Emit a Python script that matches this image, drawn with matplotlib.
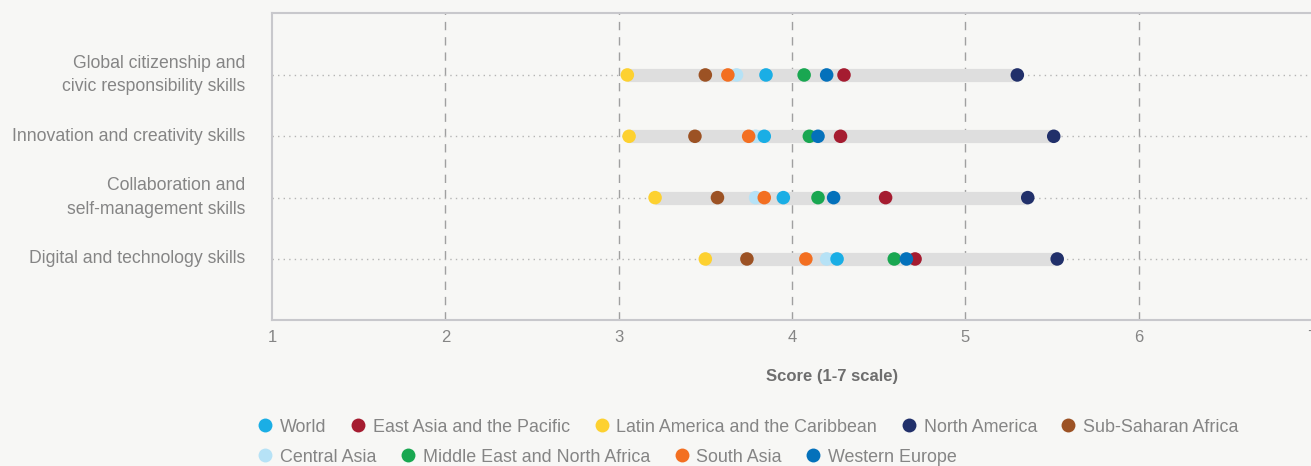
import matplotlib

matplotlib.use("Agg")

import matplotlib.pyplot as plt
from matplotlib.lines import Line2D

plt.rcParams["font.family"] = ["Liberation Sans", "DejaVu Sans"]

skills = [
    "Global citizenship and\ncivic responsibility skills",
    "Innovation and creativity skills",
    "Collaboration and\nself-management skills",
    "Digital and technology skills",
]

# drawing order (back to front)
regions = [
    "Central Asia",
    "Sub-Saharan Africa",
    "Latin America and the Caribbean",
    "Middle East and North Africa",
    "South Asia",
    "World",
    "East Asia and the Pacific",
    "Western Europe",
    "North America",
]

scores = {
    "Central Asia": [3.68, 3.79, 3.79, 4.20],
    "Sub-Saharan Africa": [3.50, 3.44, 3.57, 3.74],
    "Latin America and the Caribbean": [3.05, 3.06, 3.21, 3.50],
    "Middle East and North Africa": [4.07, 4.10, 4.15, 4.59],
    "South Asia": [3.63, 3.75, 3.84, 4.08],
    "World": [3.85, 3.84, 3.95, 4.26],
    "East Asia and the Pacific": [4.30, 4.28, 4.54, 4.71],
    "Western Europe": [4.20, 4.15, 4.24, 4.66],
    "North America": [5.30, 5.51, 5.36, 5.53],
}

colors = {
    "World": "#1aaee5",
    "East Asia and the Pacific": "#a51c30",
    "Latin America and the Caribbean": "#fdd130",
    "North America": "#21306a",
    "Sub-Saharan Africa": "#9c5224",
    "Central Asia": "#b6e2f6",
    "Middle East and North Africa": "#19a751",
    "South Asia": "#f36f21",
    "Western Europe": "#0471bb",
}

legend_rows = [
    ["World", "East Asia and the Pacific", "Latin America and the Caribbean",
     "North America", "Sub-Saharan Africa"],
    ["Central Asia", "Middle East and North Africa", "South Asia",
     "Western Europe"],
]

x_ticks = [1, 2, 3, 4, 5, 6, 7]

BG = "#f7f7f5"
TEXT = "#858585"

fig = plt.figure(figsize=(13.11, 4.66), dpi=100, facecolor=BG)
ax = fig.add_axes([272 / 1311, 146 / 466, 1040 / 1311, 307 / 466])
ax.set_facecolor(BG)

ypos = [4, 3, 2, 1]

for i, y in enumerate(ypos):
    vals = [scores[r][i] for r in regions]
    ax.axhline(y, color="#b5b5b5", lw=1, ls=(0, (1, 3)), zorder=1)
    ax.plot([min(vals), max(vals)], [y, y], color="#dedede", lw=9.5,
            solid_capstyle="butt", zorder=2)

for r in regions:
    ax.scatter(scores[r], ypos, s=95, color=colors[r], edgecolors="none",
               zorder=3)

for xv in x_ticks[1:-1]:
    ax.axvline(xv, color="#a0a0a0", lw=1, ls=(0, (6, 5)), zorder=0)

ax.set_xlim(1, 7)
ax.set_ylim(0.005, 5.01)
ax.set_xticks(x_ticks)
ax.set_xticklabels([str(v) for v in x_ticks])
ax.set_yticks(ypos)
ax.set_yticklabels(skills)
ax.tick_params(axis="x", colors=TEXT, labelsize=12, length=0, pad=7)
ax.tick_params(axis="y", colors=TEXT, labelsize=12.7, length=0, pad=19.5)
for lab in ax.get_yticklabels():
    lab.set_horizontalalignment("right")
    lab.set_verticalalignment("center")
    lab.set_multialignment("right")
    lab.set_linespacing(1.5)
for side in ["top", "left", "bottom"]:
    ax.spines[side].set_color("#c8c8cc")
    ax.spines[side].set_linewidth(1.5)
ax.spines["right"].set_visible(False)

fig.text(832 / 1311, 1 - 376 / 466, "Score (1-7 scale)", ha="center",
         va="center", fontsize=12, fontweight="bold", color="#6e6e6e")

legend_y = [1 - 427 / 466, 1 - 457 / 466]
for row, ly in zip(legend_rows, legend_y):
    handles = [Line2D([], [], marker="o", ls="none", markersize=10,
                      markerfacecolor=colors[r], markeredgecolor="none")
               for r in row]
    leg = fig.legend(handles, row, loc="center left",
                     bbox_to_anchor=(249 / 1311, ly), ncol=len(row),
                     frameon=False, fontsize=12.9, handletextpad=0.33,
                     columnspacing=1.26, handlelength=1.0, borderaxespad=0)
    for t in leg.get_texts():
        t.set_color(TEXT)

fig.savefig("out.png", dpi=100, facecolor=BG)
